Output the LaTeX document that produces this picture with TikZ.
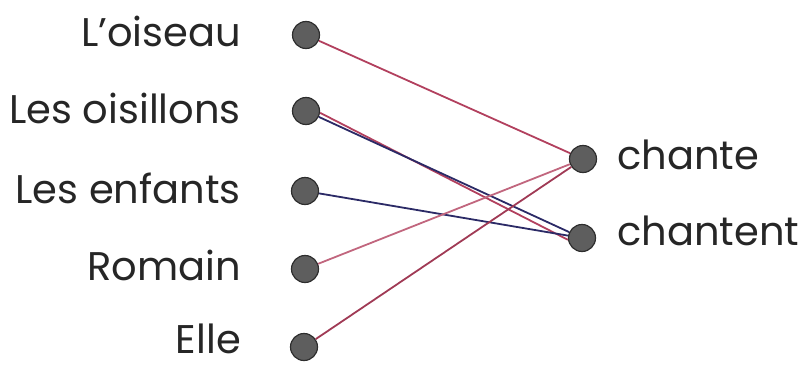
\documentclass[tikz,border=0pt]{standalone}
\usepackage{fontspec}
\setmainfont{Poppins}
\usepackage{tikz}
\usetikzlibrary{positioning}
\definecolor{dotgray}{HTML}{5E5E5E}
\definecolor{dotedge}{HTML}{2E2E2E}
\definecolor{pen}{HTML}{B2405E}
\definecolor{ink}{HTML}{2B2A66}

\begin{document}
\begin{tikzpicture}[x=1pt,y=-1pt,
  word/.style={font=\fontsize{40}{48}\selectfont, text=black!85, inner sep=0pt, text depth=0pt},
  blob/.style={circle, fill=dotgray, draw=dotedge, line width=1.2pt, minimum size=27pt, inner sep=0pt}]
\useasboundingbox (0,0) rectangle (799,364);
% dots on the left
\node[blob] (d1) at (306,35) {};
\node[blob] (d2) at (306,111) {};
\node[blob] (d3) at (305,191) {};
\node[blob] (d4) at (305,269) {};
\node[blob] (d5) at (304,347) {};
% dots on the right
\node[blob] (r1) at (583,159) {};
\node[blob] (r2) at (582,238) {};
% subjects
\node[word, anchor=base east] (s1) at (241,46) {L'oiseau};
\node[word, anchor=base east] (s2) at (241,123) {Les oisillons};
\node[word, anchor=base east] (s3) at (241,203) {Les enfants};
\node[word, anchor=base east] (s4) at (241,280) {Romain};
\node[word, anchor=base east] (s5) at (241,353) {Elle};
% verbs
\node[word, anchor=base west] (v1) at (617,169) {chante};
\node[word, anchor=base west] (v2) at (617,245) {chantent};
% links
\begin{scope}[line width=1.8pt]
\draw[pen] (d1) -- (r1);
\draw[pen] ([yshift=-1.8pt]d2.east) -- ([yshift=-1.8pt]r2.west);
\draw[ink] (d2) -- (r2);
\draw[ink] (d3) -- (r2);
\draw[pen!80] (d4) -- (r1);
\draw[pen!90!black] (d5) -- (r1);
\end{scope}
\end{tikzpicture}
\end{document}
